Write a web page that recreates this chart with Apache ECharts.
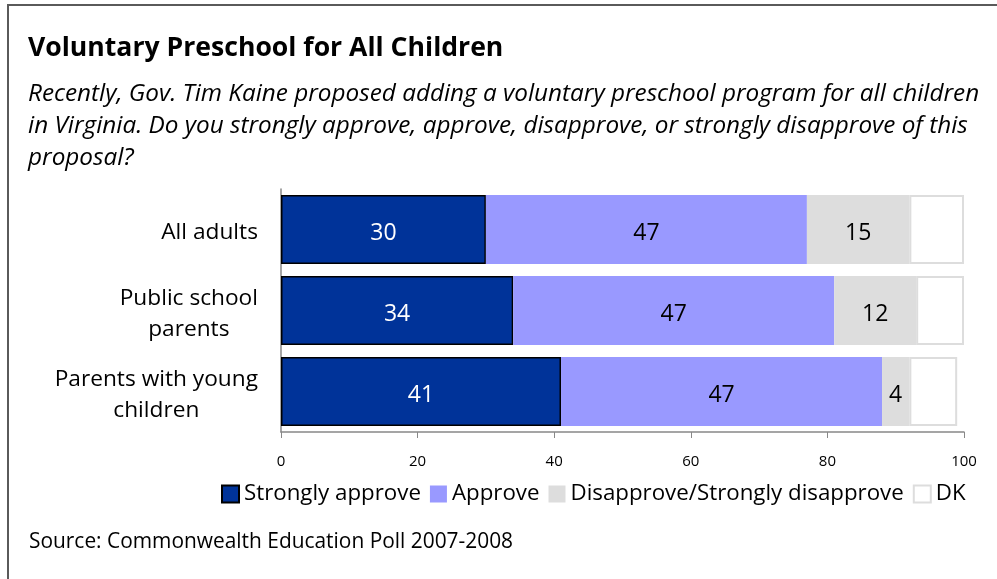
<!DOCTYPE html>
<html><head><meta charset="utf-8">
<script src="https://cdn.jsdelivr.net/npm/echarts@6/dist/echarts.min.js"></script>
<style>html,body{margin:0;padding:0;background:#fff}#c{width:997px;height:579px}</style>
</head><body><div id="c"></div>
<script>
const categories = ['All adults', 'Public school\nparents', 'Parents with young\nchildren'];
const strongly = [30, 34, 41];
const approve = [47, 47, 47];
const disapprove = [15, 12, 4];
const dk = [8, 7, 7];
const xTicks = [0, 20, 40, 60, 80, 100];
const seriesNames = ['Strongly approve', 'Approve', 'Disapprove/Strongly disapprove', 'DK'];
const titleText = 'Voluntary Preschool for All Children';
const subLines = [
  'Recently, Gov. Tim Kaine proposed adding a voluntary preschool program for all children',
  'in Virginia. Do you strongly approve, approve, disapprove, or strongly disapprove of this',
  'proposal?'
];
const sourceText = 'Source: Commonwealth Education Poll 2007-2008';

const FAM = '"Open Sans", Lato, sans-serif';
const ctx = document.createElement('canvas').getContext('2d');
function fit(text, prefix, target){
  ctx.font = prefix + ' 100px ' + FAM;
  const w = ctx.measureText(text).width;
  return Math.round(100 * target / w * 10) / 10;
}
const titleSize = fit(titleText, 'bold', 475);
const subSize = fit(subLines[0], 'italic', 952);
const srcSize = fit(sourceText, 'normal', 484);
const legSize = fit(seriesNames[0], 'normal', 177);
const ySize = fit('Parents with young', 'normal', 203);

const chart = echarts.init(document.getElementById('c'));
function lbl(color){
  return {show:true, position:'inside', offset:[0,4], color:color, fontSize:23, fontFamily:FAM};
}
chart.setOption({
  animation:false,
  graphic:[
    {type:'rect', shape:{x:8,y:5,width:1000,height:600}, style:{fill:'none', stroke:'#5a5a5a', lineWidth:2}},
    {type:'text', x:28, y:48, style:{text:titleText, font:'bold '+titleSize+'px '+FAM, fill:'#000', textVerticalAlign:'middle'}},
    {type:'text', x:28, y:94, style:{text:subLines[0], font:'italic '+subSize+'px '+FAM, fill:'#000', textVerticalAlign:'middle'}},
    {type:'text', x:28, y:126, style:{text:subLines[1], font:'italic '+subSize+'px '+FAM, fill:'#000', textVerticalAlign:'middle'}},
    {type:'text', x:28, y:158, style:{text:subLines[2], font:'italic '+subSize+'px '+FAM, fill:'#000', textVerticalAlign:'middle'}},
    {type:'text', x:29, y:542, style:{text:sourceText, font:srcSize+'px '+FAM, fill:'#000', textVerticalAlign:'middle'}}
  ],
  grid:{left:281, right:33, top:189, bottom:147, containLabel:false},
  legend:{
    data:seriesNames, left:216, top:478, itemWidth:17, itemHeight:17, itemGap:9,
    textStyle:{fontSize:legSize, fontFamily:FAM, color:'#000'},
    icon:'rect'
  },
  xAxis:{
    type:'value', min:0, max:100, interval:20,
    axisLine:{show:true, lineStyle:{color:'#888', width:1.5}},
    axisTick:{show:true, length:6, lineStyle:{color:'#888'}},
    splitLine:{show:false},
    axisLabel:{color:'#000', fontSize:15, fontFamily:FAM, margin:22,
      formatter:v=>xTicks.indexOf(v)>=0?String(v):''}
  },
  yAxis:{
    type:'category', data:categories, inverse:true,
    axisLine:{show:true, lineStyle:{color:'#888', width:1.5}},
    axisTick:{show:false},
    axisLabel:{color:'#000', fontSize:ySize, fontFamily:FAM, margin:23, lineHeight:31, align:'right',
      padding:[7,0,0,0],
      formatter:v=>v.split('\n').map(s=>'{c|'+s+'}').join('\n'),
      rich:{c:{align:'center', fontSize:ySize, fontFamily:FAM, lineHeight:31, color:'#000'}}
    }
  },
  series:[
    {name:seriesNames[0], type:'bar', stack:'t', data:strongly, barCategoryGap:'15%',
      itemStyle:{color:'#003399', borderColor:'#000', borderWidth:1.5}, label:lbl('#fff')},
    {name:seriesNames[1], type:'bar', stack:'t', data:approve,
      itemStyle:{color:'#9999FF'}, label:lbl('#000')},
    {name:seriesNames[2], type:'bar', stack:'t', data:disapprove,
      itemStyle:{color:'#DDDDDD'}, label:lbl('#000')},
    {name:seriesNames[3], type:'bar', stack:'t', data:dk,
      itemStyle:{color:'#FFFFFF', borderColor:'#DDDDDD', borderWidth:2}, label:{show:false}}
  ]
});
</script></body></html>
